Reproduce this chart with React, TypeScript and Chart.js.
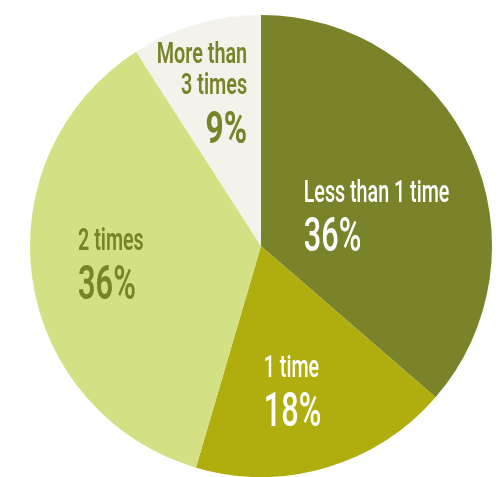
import React, { useEffect, useRef } from "react";
import { Chart, registerables } from "chart.js";

Chart.register(...registerables);

// Answer categories, clockwise from twelve o'clock
const categories: string[][] = [
  ["Less than 1 time"],
  ["1 time"],
  ["2 times"],
  ["More than", "3 times"],
];
const shares: number[] = [36, 18, 36, 9];
const sliceColors: string[] = ["#7a8329", "#afae0e", "#d3e083", "#f3f2eb"];
const labelColors: string[] = ["#ffffff", "#ffffff", "#7a8329", "#7a8329"];

// Label anchors in units of the pie radius, relative to the pie centre
const labelAnchors: { dx: number; dy: number; align: "left" | "right" }[] = [
  { dx: 0.185, dy: -0.19, align: "left" },
  { dx: 0.012, dy: 0.569, align: "left" },
  { dx: -0.792, dy: 0.017, align: "left" },
  { dx: -0.06, dy: -0.792, align: "right" },
];

const FONT = "Roboto, 'Liberation Sans', sans-serif";

const sliceLabels = {
  id: "sliceLabels",
  afterDatasetsDraw(chart: any) {
    const ctx: CanvasRenderingContext2D = chart.ctx;
    const meta = chart.getDatasetMeta(0);
    meta.data.forEach((arc: any, i: number) => {
      const { x, y, outerRadius } = arc.getProps(["x", "y", "outerRadius"], true);
      const a = labelAnchors[i];
      const ax = x + a.dx * outerRadius;
      let by = y + a.dy * outerRadius;
      const lines = categories[i];
      const dark = labelColors[i] !== "#ffffff";
      ctx.save();
      ctx.fillStyle = labelColors[i];
      ctx.textBaseline = "alphabetic";
      ctx.textAlign = a.align;
      // condensed lettering: regular glyphs squeezed horizontally
      const drawLine = (txt: string, size: number, weight: number, squeeze: number) => {
        ctx.save();
        ctx.translate(ax, by);
        ctx.scale(squeeze, 1);
        ctx.font = `${weight} ${size}px ${FONT}`;
        ctx.fillText(txt, 0, 0);
        ctx.restore();
      };
      lines.forEach((line, k) => {
        if (k > 0) by += 31;
        drawLine(line, lines.length > 1 ? 30 : 32, dark ? 600 : 500, lines.length > 1 ? 0.66 : 0.615);
      });
      by += 49;
      if (lines.length > 1) {
        drawLine(`${shares[i]}%`, 44, 700, 0.72);
      } else {
        drawLine(`${shares[i]}%`, 48, dark ? 600 : 500, 0.64);
      }
      ctx.restore();
    });
  },
};

export default function App() {
  const canvasRef = useRef<HTMLCanvasElement | null>(null);

  useEffect(() => {
    if (!canvasRef.current) return;
    const chart = new Chart(canvasRef.current, {
      type: "pie",
      data: {
        labels: categories.map((c) => c.join(" ")),
        datasets: [
          {
            data: shares,
            backgroundColor: sliceColors,
            borderWidth: 0,
          },
        ],
      },
      options: {
        responsive: false,
        animation: false,
        layout: { padding: { left: 30, right: 8, top: 15, bottom: 0 } },
        plugins: {
          legend: { display: false },
          tooltip: { enabled: false },
        },
      },
      plugins: [sliceLabels],
    });
    return () => chart.destroy();
  }, []);

  return (
    <div style={{ position: "fixed", left: 0, top: 0, width: 500, height: 477, background: "#ffffff" }}>
      <canvas ref={canvasRef} width={500} height={477} />
    </div>
  );
}
